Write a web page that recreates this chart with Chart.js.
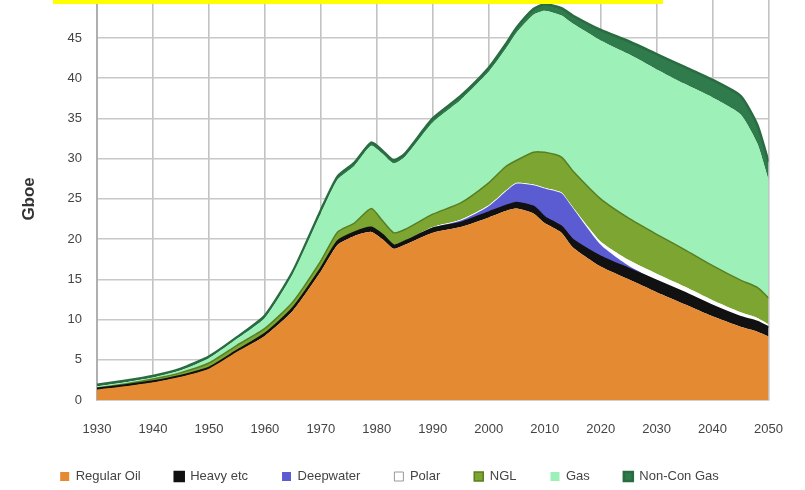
<!DOCTYPE html>
<html>
<head>
<meta charset="utf-8">
<script src="https://cdn.jsdelivr.net/npm/chart.js@4.4.1/dist/chart.umd.min.js"></script>
<style>
  html, body { margin: 0; padding: 0; background: #ffffff; }
  #wrap { position: relative; width: 805px; height: 490px; overflow: hidden; background: #fff; }
  #c { position: absolute; left: 0; top: -25px; }
  #bar { position: absolute; left: 53px; top: 0; width: 610px; height: 4px; background: #FFFF00; }
</style>
</head>
<body>
<div id="wrap">
  <canvas id="c" width="805" height="518"></canvas>
  <div id="bar"></div>
</div>
<script>
const years = [1930,1935,1940,1945,1950,1955,1960,1965,1970,1973,1976,1979,1981,1983,1985,1990,1995,2000,2003,2005,2008,2010,2013,2015,2020,2025,2030,2035,2040,2045,2048,2050];
const regularOil = [1.3,1.7,2.2,2.9,3.9,6.0,8.0,11.1,16.0,19.3,20.4,20.9,20.0,18.8,19.3,20.8,21.5,22.7,23.5,23.8,23.2,22.0,20.8,19.0,16.6,15.0,13.4,11.9,10.4,9.1,8.5,7.9];
const heavy = [0.1,0.1,0.1,0.1,0.1,0.1,0.2,0.3,0.3,0.4,0.4,0.5,0.5,0.4,0.4,0.5,0.5,0.6,0.6,0.7,0.8,0.7,0.7,0.9,1.2,1.3,1.4,1.4,1.3,1.2,1.2,1.1];
const deepwater = [0,0,0,0,0,0,0,0,0,0,0,0,0,0,0,0.1,0.3,0.8,1.8,2.4,2.7,3.6,4.2,4.0,1.5,0.4,0.1,0,0,0,0,0];
const polar = [0,0,0,0,0,0,0,0,0,0,0,0.1,0.1,0.1,0.1,0.1,0.1,0.1,0.1,0.1,0.1,0.1,0.1,0.1,0.4,0.7,0.8,0.8,0.7,0.6,0.5,0.4];
const ngl = [0.1,0.2,0.3,0.4,0.6,0.7,0.7,0.8,1.0,1.2,1.2,2.3,1.7,1.5,1.4,1.6,2.1,2.8,3.0,2.8,4.0,4.4,4.4,4.5,5.3,5.2,4.9,4.6,4.3,4.0,3.8,3.3];
const gas = [0.2,0.2,0.2,0.3,0.6,0.8,1.3,3.5,5.9,6.5,7.1,7.8,8.3,8.6,9.0,11.4,12.8,13.8,14.6,15.9,17.1,17.6,17.6,18.3,19.7,20.4,20.5,20.6,20.9,20.6,17.9,14.7];
const nonConGas = [0.2,0.2,0.2,0.2,0.2,0.2,0.3,0.3,0.4,0.4,0.4,0.4,0.4,0.4,0.4,0.5,0.5,0.5,0.6,0.6,0.7,0.8,0.9,1.0,1.3,1.6,1.9,2.1,2.2,2.3,2.3,2.2];

const seriesNames = ["Regular Oil","Heavy etc","Deepwater","Polar","NGL","Gas","Non-Con Gas"];
const xTicks = [1930,1940,1950,1960,1970,1980,1990,2000,2010,2020,2030,2040,2050];
const yTicks = [0,5,10,15,20,25,30,35,40,45,50];
const yTickLabels = ["0","5","10","15","20","25","30","35","40","45",""];
const yTitle = "Gboe";

const seriesValues = [regularOil, heavy, deepwater, polar, ngl, gas, nonConGas];
const fills = ['#E38A33', '#111111', '#5C5CD2', '#FFFFFF', '#7DA532', '#9CF0B8', '#2F7B4B'];
const borders = ['#E38A33', '#111111', '#5C5CD2', '#9A9A9A', '#587F22', '#9CF0B8', '#2A6C42'];
const borderW = [0, 2.5, 0, 1, 1.5, 0, 2.5];

const datasets = seriesValues.map((vals, i) => ({
  label: seriesNames[i],
  data: years.map((y, j) => ({ x: y, y: vals[j] })),
  backgroundColor: fills[i],
  borderColor: borders[i],
  borderWidth: borderW[i],
  fill: i === 0 ? 'origin' : '-1',
  pointRadius: 0,
  tension: 0.2
}));
// polar: border only shows in the legend box, not along the area
datasets[3].segment = { borderColor: () => 'rgba(0,0,0,0)' };

const tickFont = { family: 'Arial, "Liberation Sans", sans-serif', size: 13 };

new Chart(document.getElementById('c'), {
  type: 'line',
  data: { datasets },
  options: {
    responsive: false,
    animation: false,
    devicePixelRatio: 1,
    layout: { padding: { left: 0, right: 26, top: 0, bottom: 0 } },
    plugins: {
      legend: {
        position: 'bottom',
        labels: {
          color: '#444',
          font: { family: 'Arial, "Liberation Sans", sans-serif', size: 13 },
          boxWidth: 9,
          boxHeight: 9,
          padding: 34
        }
      },
      tooltip: { enabled: false },
      filler: { propagate: false }
    },
    scales: {
      x: {
        type: 'linear',
        min: 1930,
        max: 2050,
        afterBuildTicks: (s) => { s.ticks = xTicks.map(v => ({ value: v })); },
        afterFit: (s) => { s.height = 36; },
        ticks: { color: '#444', font: tickFont, padding: 22, maxRotation: 0, autoSkip: false,
                 callback: (v) => String(v) },
        grid: { color: '#C2C2C2', lineWidth: 1.6, drawTicks: false },
        border: { color: '#BBBBBB', width: 1.5 }
      },
      y: {
        stacked: true,
        min: 0,
        max: 50,
        afterBuildTicks: (s) => { s.ticks = yTicks.map(v => ({ value: v })); },
        afterFit: (s) => { s.width = 97; },
        ticks: { color: '#444', font: tickFont, padding: 15,
                 callback: (v) => yTickLabels[yTicks.indexOf(v)] },
        grid: { color: '#C8C8C8', lineWidth: 1.6, drawTicks: false },
        border: { color: '#AFAFAF', width: 2 },
        title: { display: true, text: yTitle, color: '#333',
                 font: { family: 'Arial, "Liberation Sans", sans-serif', size: 17, weight: 'bold' },
                 padding: { top: 19, bottom: 0 } }
      }
    }
  }
});
</script>
</body>
</html>
